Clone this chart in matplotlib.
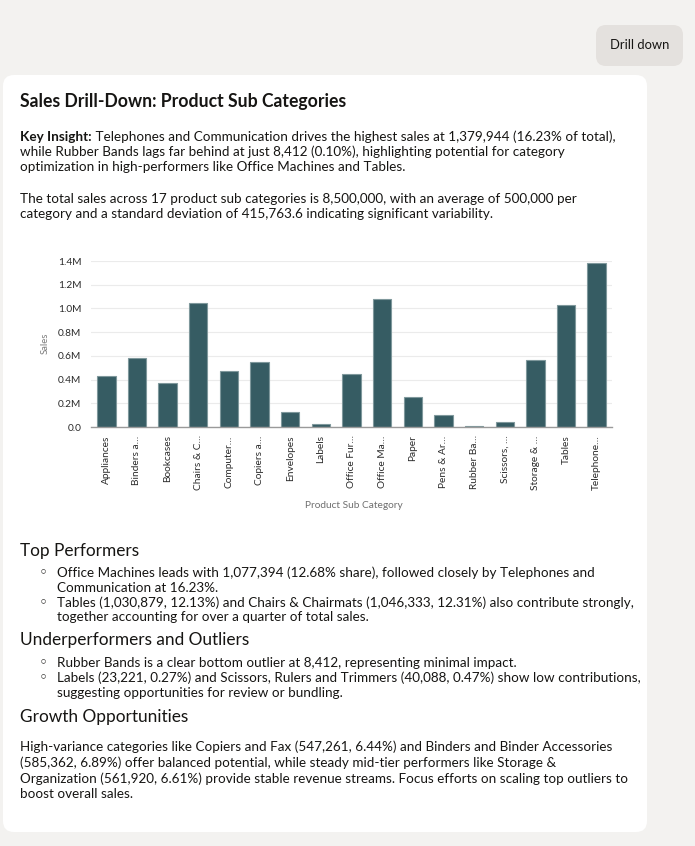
import matplotlib
matplotlib.use("Agg")
import matplotlib.pyplot as plt
from matplotlib.patches import FancyBboxPatch
from matplotlib.ticker import FuncFormatter

# ---------------- data ----------------
categories = [
    "Appliances", "Binders and Binder Accessories", "Bookcases", "Chairs & Chairmats",
    "Computer Peripherals", "Copiers and Fax", "Envelopes", "Labels",
    "Office Furnishings", "Office Machines", "Paper", "Pens & Art Supplies",
    "Rubber Bands", "Scissors, Rulers and Trimmers", "Storage & Organization",
    "Tables", "Telephones and Communication",
]
tick_labels = [
    "Appliances", "Binders a\u2026", "Bookcases", "Chairs & C\u2026", "Computer\u2026",
    "Copiers a\u2026", "Envelopes", "Labels", "Office Fur\u2026", "Office Ma\u2026",
    "Paper", "Pens & Ar\u2026", "Rubber Ba\u2026", "Scissors, \u2026", "Storage & \u2026",
    "Tables", "Telephone\u2026",
]
sales = [
    430000, 585362, 368000, 1046333, 470000, 547261, 125000, 23221,
    445000, 1077394, 250000, 100000, 8412, 40088, 561920, 1030879, 1379944,
]
y_ticks = [0, 200000, 400000, 600000, 800000, 1000000, 1200000, 1400000]

title = "Sales Drill-Down: Product Sub Categories"
key_lines = [
    ("Key Insight:", " Telephones and Communication drives the highest sales at 1,379,944 (16.23% of total),"),
    ("", "while Rubber Bands lags far behind at just 8,412 (0.10%), highlighting potential for category"),
    ("", "optimization in high-performers like Office Machines and Tables."),
]
summary_lines = [
    "The total sales across 17 product sub categories is 8,500,000, with an average of 500,000 per",
    "category and a standard deviation of 415,763.6 indicating significant variability.",
]
sections = [
    ("Top Performers", 551, [
        [(573, "Office Machines leads with 1,077,394 (12.68% share), followed closely by Telephones and"),
         (588, "Communication at 16.23%.")],
        [(603, "Tables (1,030,879, 12.13%) and Chairs & Chairmats (1,046,333, 12.31%) also contribute strongly,"),
         (617, "together accounting for over a quarter of total sales.")],
    ]),
    ("Underperformers and Outliers", 640, [
        [(663, "Rubber Bands is a clear bottom outlier at 8,412, representing minimal impact.")],
        [(678, "Labels (23,221, 0.27%) and Scissors, Rulers and Trimmers (40,088, 0.47%) show low contributions,"),
         (693, "suggesting opportunities for review or bundling.")],
    ]),
]
growth_title = "Growth Opportunities"
growth_lines = [
    "High-variance categories like Copiers and Fax (547,261, 6.44%) and Binders and Binder Accessories",
    "(585,362, 6.89%) offer balanced potential, while steady mid-tier performers like Storage &",
    "Organization (561,920, 6.61%) provide stable revenue streams. Focus efforts on scaling top outliers to",
    "boost overall sales.",
]

# ---------------- figure ----------------
W, H = 695, 846
DPI = 100
fig = plt.figure(figsize=(W / DPI, H / DPI), dpi=DPI)
fig.patch.set_facecolor("#f3f2f0")

FONT = ["Lato", "DejaVu Sans"]
TXT = "#161513"

bg = fig.add_axes([0, 0, 1, 1], zorder=0)
bg.set_xlim(0, W)
bg.set_ylim(H, 0)
bg.axis("off")

# user bubble
bg.add_patch(FancyBboxPatch((596, 25), 87, 41, boxstyle="round,pad=0,rounding_size=10",
                            fc="#e4e1de", ec="none"))
bg.text(639.5, 45, "Drill down", ha="center", va="center", fontsize=9.4, family=FONT, color=TXT)

# card
bg.add_patch(FancyBboxPatch((3, 75), 644, 757, boxstyle="round,pad=0,rounding_size=11",
                            fc="white", ec="none"))

bg.text(20, 102, title, ha="left", va="center", fontsize=12.7, fontweight="bold",
        family=FONT, color=TXT)

renderer = fig.canvas.get_renderer()
BODY = 9.75
key_y = [137, 152, 167]
for (bold, rest), y in zip(key_lines, key_y):
    x = 20
    if bold:
        t = bg.text(x, y, bold, ha="left", va="center", fontsize=BODY, fontweight="bold",
                    family=FONT, color=TXT)
        bb = t.get_window_extent(renderer=renderer)
        x = x + bb.width
    bg.text(x, y, rest, ha="left", va="center", fontsize=BODY, family=FONT, color=TXT)

for line, y in zip(summary_lines, [199, 214]):
    bg.text(20, y, line, ha="left", va="center", fontsize=BODY, family=FONT, color=TXT)

HEAD = 12.4
for head, hy, bullets in sections:
    bg.text(20, hy, head, ha="left", va="center", fontsize=HEAD, family=FONT, color=TXT)
    for bullet in bullets:
        first_y = bullet[0][0]
        bg.text(43, first_y, "\u25e6", ha="center", va="center", fontsize=11,
                family=["DejaVu Sans"], color=TXT)
        for y, line in bullet:
            bg.text(57, y, line, ha="left", va="center", fontsize=BODY, family=FONT, color=TXT)

bg.text(20, 717, growth_title, ha="left", va="center", fontsize=HEAD, family=FONT, color=TXT)
for line, y in zip(growth_lines, [747, 763, 779, 794]):
    bg.text(20, y, line, ha="left", va="center", fontsize=BODY, family=FONT, color=TXT)

# ---------------- chart ----------------
left, right, top, bottom = 91, 612, 261, 427
ax = fig.add_axes([left / W, 1 - bottom / H, (right - left) / W, (bottom - top) / H], zorder=2)
ax.set_facecolor("none")
x = list(range(len(categories)))
ax.bar(x, sales, width=0.6, color="#365c63", edgecolor="#7f989c", linewidth=0.8, zorder=3)
ax.set_xlim(-0.5, len(categories) - 0.5)
ax.set_ylim(0, 1400000)
ax.set_yticks(y_ticks)
ax.yaxis.set_major_formatter(FuncFormatter(lambda v, p: "0.0" if v == 0 else f"{v/1e6:.1f}M"))
ax.set_xticks(x)
ax.set_xticklabels(tick_labels, rotation=90, fontsize=7.3, family=FONT, color="#2a2a2a")
for lab in ax.get_yticklabels():
    lab.set_fontsize(7.3)
    lab.set_family(FONT)
    lab.set_color("#2a2a2a")
ax.tick_params(axis="both", length=0)
ax.tick_params(axis="y", pad=7)
ax.tick_params(axis="x", pad=6)
ax.grid(axis="y", color="#ebebeb", linewidth=0.8, zorder=0)
for s in ["top", "right", "left"]:
    ax.spines[s].set_visible(False)
ax.spines["bottom"].set_color("#9a9a9a")
ax.spines["bottom"].set_linewidth(1.0)
ax.spines["bottom"].set_zorder(4)

bg.text(45.5, 343, "Sales", ha="center", va="center", rotation=90, fontsize=6.8,
        family=FONT, color="#7a7a7a")
bg.text(354, 506, "Product Sub Category", ha="center", va="center", fontsize=7.3,
        family=FONT, color="#6f6f6f")

fig.savefig("out.png", dpi=DPI, facecolor=fig.get_facecolor())
